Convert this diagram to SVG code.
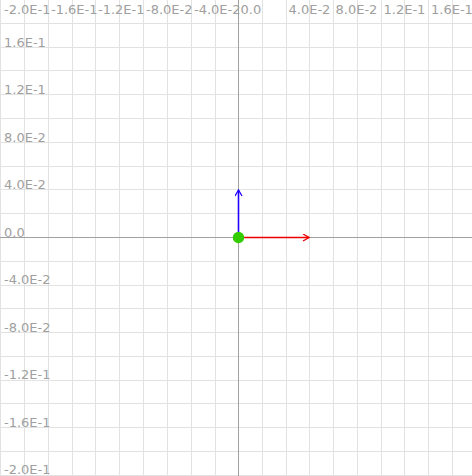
<svg xmlns="http://www.w3.org/2000/svg" width="472" height="476" viewBox="0 0 472 476">
<style>
.g{stroke:#e2e2e2;stroke-width:1;fill:none}
.ax{stroke:#a0a0a0;stroke-width:1;fill:none}
.t{font-family:"DejaVu Sans",sans-serif;font-size:13px;fill:#a0a0a0}
</style>
<defs>
<marker id="ab" viewBox="0 0 8 8" refX="7" refY="4" markerWidth="8" markerHeight="8" markerUnits="userSpaceOnUse" orient="auto"><path d="M1,0.5 L7,4 L1,7.5" fill="none" stroke="#2200ff" stroke-width="1.3"/></marker>
<marker id="ar" viewBox="0 0 8 8" refX="7" refY="4" markerWidth="8" markerHeight="8" markerUnits="userSpaceOnUse" orient="auto"><path d="M1,0.5 L7,4 L1,7.5" fill="none" stroke="#ee0000" stroke-width="1.3"/></marker>
</defs>
<rect width="472" height="476" fill="#ffffff"/>
<g id="grid">
<path class="g" d="M0.5,0V476M24.5,0V476M48.5,0V476M72.5,0V476M95.5,0V476M119.5,0V476M143.5,0V476M167.5,0V476M191.5,0V476M215.5,0V476M238.5,0V476M262.5,0V476M286.5,0V476M309.5,0V476M333.5,0V476M357.5,0V476M381.5,0V476M404.5,0V476M428.5,0V476M452.5,0V476"/>
<path class="g" d="M0,23.5H472M0,47.5H472M0,70.5H472M0,94.5H472M0,118.5H472M0,142.5H472M0,166.5H472M0,189.5H472M0,213.5H472M0,237.5H472M0,261.5H472M0,285.5H472M0,308.5H472M0,332.5H472M0,356.5H472M0,380.5H472M0,403.5H472M0,427.5H472M0,451.5H472M0,475.5H472"/>
<path class="ax" d="M238.5,0V476M0,237.5H472"/>
</g>
<g id="xlabels" class="t">
<text x="4" y="13.5">-2.0E-1</text>
<text x="51" y="13.5">-1.6E-1</text>
<text x="98" y="13.5">-1.2E-1</text>
<text x="146" y="13.5">-8.0E-2</text>
<text x="194" y="13.5">-4.0E-2</text>
<text x="240.5" y="13.5">0.0</text>
<text x="288.5" y="13.5">4.0E-2</text>
<text x="335.5" y="13.5">8.0E-2</text>
<text x="383.5" y="13.5">1.2E-1</text>
<text x="431" y="13.5">1.6E-1</text>
</g>
<g id="ylabels" class="t">
<text x="4" y="46.5">1.6E-1</text>
<text x="4" y="94">1.2E-1</text>
<text x="4" y="141.5">8.0E-2</text>
<text x="4" y="189">4.0E-2</text>
<text x="4" y="236.5">0.0</text>
<text x="4" y="284">-4.0E-2</text>
<text x="4" y="331.5">-8.0E-2</text>
<text x="4" y="379">-1.2E-1</text>
<text x="4" y="426.5">-1.6E-1</text>
<text x="4" y="474">-2.0E-1</text>
</g>
<g id="connectors">
<line x1="238.5" y1="237.5" x2="238.5" y2="190" stroke="#2200ff" stroke-width="1.6" marker-end="url(#ab)"/>
<line x1="238.5" y1="237.5" x2="309" y2="237.5" stroke="#ee0000" stroke-width="1.6" marker-end="url(#ar)"/>
</g>
<g id="origin">
<circle cx="238.5" cy="237.5" r="5.7" fill="#33cc00"/>
</g>
</svg>
